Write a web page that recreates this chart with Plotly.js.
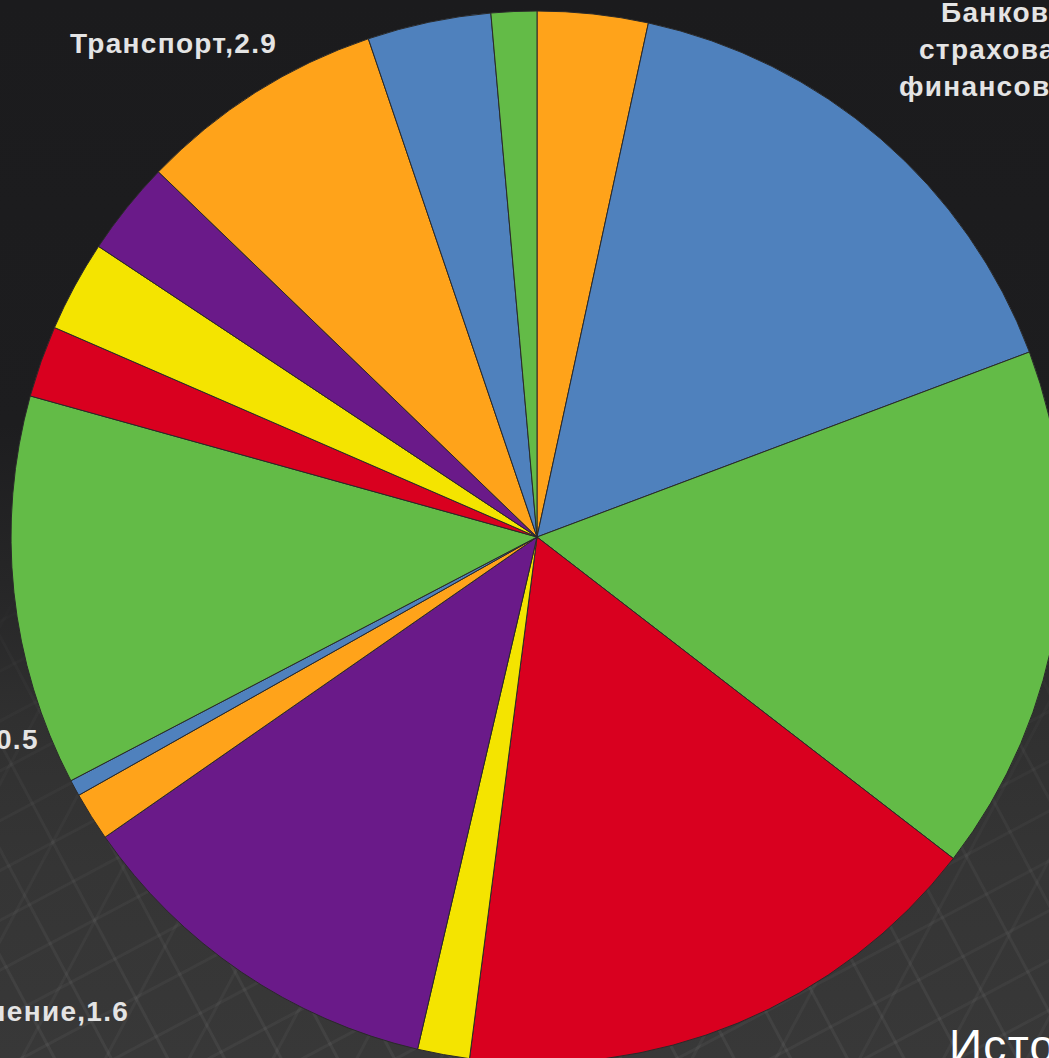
<!DOCTYPE html>
<html>
<head>
<meta charset="utf-8">
<script src="https://cdn.plot.ly/plotly-3.0.1.min.js"></script>
<style>
  html, body { margin: 0; padding: 0; width: 1049px; height: 1058px; overflow: hidden; }
  body { background: linear-gradient(to bottom, #1b1b1d 0%, #1d1d1f 40%, #262627 55%, #303030 68%, #353535 82%, #383838 100%); position: relative; }
  #grid { position: absolute; left: 0; top: 0; width: 1049px; height: 1058px;
    background:
      repeating-linear-gradient(62deg, rgba(255,255,255,0) 0px, rgba(255,255,255,0) 46px, rgba(255,255,255,0.055) 47px, rgba(255,255,255,0.055) 49px, rgba(255,255,255,0) 50px),
      repeating-linear-gradient(-28deg, rgba(255,255,255,0) 0px, rgba(255,255,255,0) 40px, rgba(255,255,255,0.045) 41px, rgba(255,255,255,0.045) 43px, rgba(255,255,255,0) 44px),
      repeating-linear-gradient(118deg, rgba(255,255,255,0) 0px, rgba(255,255,255,0) 70px, rgba(255,255,255,0.04) 71px, rgba(255,255,255,0.04) 73px, rgba(255,255,255,0) 74px);
    -webkit-mask-image: linear-gradient(to bottom, rgba(0,0,0,0) 50%, rgba(0,0,0,0.6) 70%, rgba(0,0,0,1) 100%);
    mask-image: linear-gradient(to bottom, rgba(0,0,0,0) 50%, rgba(0,0,0,0.6) 70%, rgba(0,0,0,1) 100%);
  }
  #chart { position: absolute; left: 0; top: 0; width: 1074px; height: 1074px; }
  .annotation-text { letter-spacing: 1.3px; }
</style>
</head>
<body>
<div id="grid"></div>
<div id="chart"></div>
<script>
// Slices, clockwise from 12 o'clock
var sectors = [
  "Сельское хозяйство",
  "Банковская, страховая и финансовая деятельность",
  "Обрабатывающие производства",
  "Торговля",
  "Здравоохранение",
  "Государственное управление",
  "Образование",
  "Рыболовство",
  "Добыча полезных ископаемых",
  "Электроэнергия, газ и вода",
  "Строительство",
  "Транспорт",
  "Операции с недвижимостью",
  "Связь",
  "Гостиницы и рестораны"
];
var shares = [3.4, 15.9, 16.2, 16.6, 1.6, 11.7, 1.5, 0.5, 12.0, 2.2, 2.8, 2.9, 7.6, 3.8, 1.4];
var sliceColors = ["#FFA31A", "#4F81BD", "#63BB47", "#D9001F", "#F4E400", "#6A1A89",
                   "#FFA31A", "#4F81BD", "#63BB47", "#D9001F", "#F4E400", "#6A1A89",
                   "#FFA31A", "#4F81BD", "#63BB47"];

var W = 1074, M = 11, D = W - 2 * M;
function px(x) { return (x - M) / D; }
function py(y) { return 1 - (y - M) / D; }

function lbl(i) { return sectors[i] + "," + shares[i]; }

var labelFont = { family: "Liberation Sans, Arial, sans-serif", size: 28, color: "#e4e4e4" };

var annotations = [
  { text: "<b>" + lbl(11) + "</b>", x: px(68), y: py(43), xanchor: "left", yanchor: "middle" },
  { text: "<b>Банковская,</b>", x: px(939), y: py(13), xanchor: "left", yanchor: "middle" },
  { text: "<b>страховая и</b>", x: px(917), y: py(50), xanchor: "left", yanchor: "middle" },
  { text: "<b>финансовая</b>", x: px(897), y: py(87), xanchor: "left", yanchor: "middle" },
  { text: "<b>" + lbl(7) + "</b>", x: px(41), y: py(739), xanchor: "right", yanchor: "middle" },
  { text: "<b>" + lbl(4) + "</b>", x: px(131), y: py(1011), xanchor: "right", yanchor: "middle" },
  { text: "Источник: Росстат", x: px(947), y: py(1046), xanchor: "left", yanchor: "middle",
    font: { family: "Liberation Sans, Arial, sans-serif", size: 46, color: "#ffffff" } }
].map(function (a) {
  return Object.assign({ xref: "paper", yref: "paper", showarrow: false, font: labelFont }, a);
});

var data = [{
  type: "pie",
  labels: sectors,
  values: shares,
  sort: false,
  direction: "clockwise",
  rotation: 0,
  textinfo: "none",
  hoverinfo: "label+value",
  marker: { colors: sliceColors, line: { color: "#2a2a2a", width: 1 } },
  domain: { x: [0, 1], y: [0, 1] }
}];

var layout = {
  width: W, height: W,
  margin: { l: M, r: M, t: M, b: M },
  paper_bgcolor: "rgba(0,0,0,0)",
  plot_bgcolor: "rgba(0,0,0,0)",
  showlegend: false,
  annotations: annotations
};

Plotly.newPlot("chart", data, layout, { displayModeBar: false, staticPlot: true });
</script>
</body>
</html>
